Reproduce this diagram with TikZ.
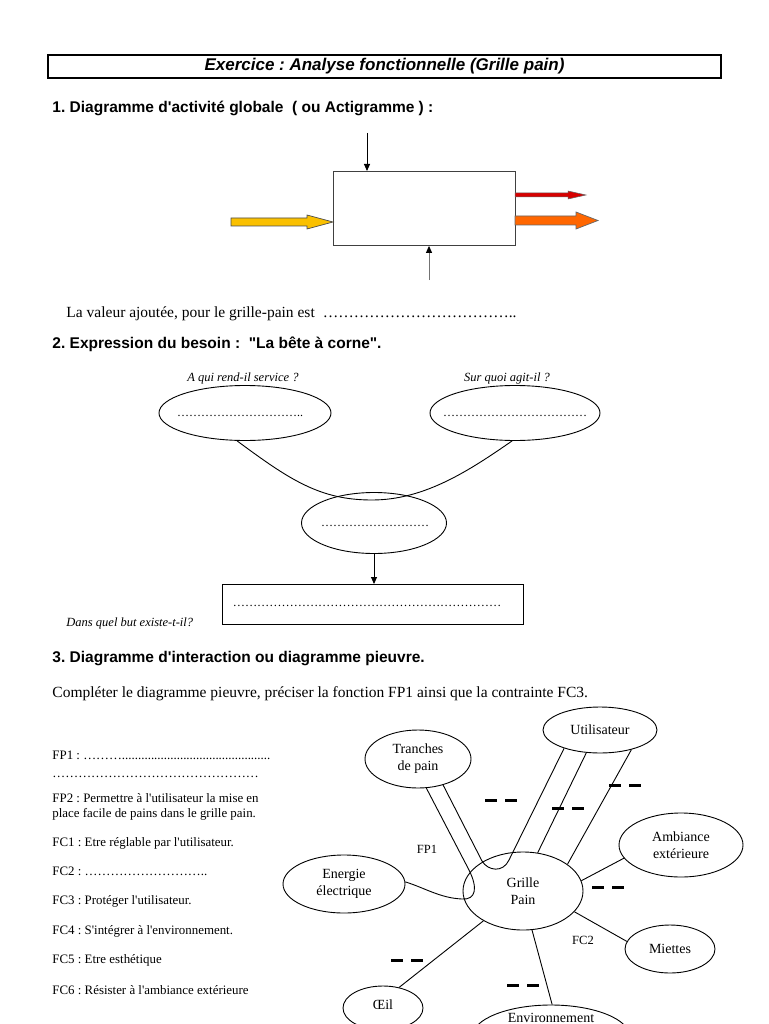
\documentclass[tikz,border=0pt]{standalone}
\usepackage{fontspec}
\setmainfont{Liberation Serif}[Ligatures=TeXOff]
\setsansfont{Liberation Sans}[Ligatures=TeXOff]
\usetikzlibrary{shapes.geometric,arrows.meta}
\definecolor{yel}{RGB}{250,192,0}
\definecolor{ora}{RGB}{255,102,0}
\definecolor{redc}{RGB}{215,0,0}
\frenchspacing
\begin{document}
\begin{tikzpicture}[x=1pt,y=-1pt,line width=0.9pt,
  every node/.style={inner sep=0pt},
  body/.style={font=\fontsize{15.5}{18}\selectfont, anchor=base west},
  heading/.style={font=\fontsize{15.5}{18}\sffamily\bfseries\selectfont, anchor=base west},
  small/.style={font=\fontsize{12.9}{15.5}\selectfont, anchor=base west},
  question/.style={font=\fontsize{12.5}{15}\itshape\selectfont, anchor=base},
  dotsfont/.style={font=\fontsize{12}{14}\selectfont, anchor=base},
  oval/.style={draw, ellipse, inner sep=0pt},
  ptext/.style={font=\fontsize{14}{17}\selectfont, align=center},
  plabel/.style={font=\fontsize{12.5}{15}\selectfont},
  thickdash/.style={line width=3pt, dash pattern=on 12pt off 8pt},
  tip/.style={-{Triangle[length=7pt,width=6pt,color=black]}}
]
\useasboundingbox (0,0) rectangle (768,1024);
\clip (0,0) rectangle (768,1024);

% title
\node[draw, line width=1.2pt, minimum width=673, minimum height=23,
      font=\fontsize{17}{20}\sffamily\bfseries\itshape\selectfont] (title) at (384.5,66.5)
      {Exercice : Analyse fonctionnelle (Grille pain)};

% section 1
\node[heading] (h1) at (52,113) {1. Diagramme d'activité globale \ ( ou Actigramme ) :};
\node[draw=black!75, minimum width=182, minimum height=74, anchor=north west] (sys) at (333,171) {};
\coordinate (tin) at (367,133);
\draw[tip] (tin) -- (tin |- sys.north);
\coordinate (bin) at (429,280);
\draw[tip, draw=black!55] (bin) -- (bin |- sys.south);
\draw[fill=yel, draw=black!70, line width=0.7pt] (231,218) -- (307,218) -- (307,215) -- (333,222) -- (307,229) -- (307,226) -- (231,226) -- cycle;
\draw[fill=redc, draw=black!60, line width=0.5pt] (515,193) -- (568,193) -- (568,191) -- (586,195) -- (568,199) -- (568,197) -- (515,197) -- cycle;
\draw[fill=ora, draw=black!60, line width=0.7pt] (515,216) -- (576,216) -- (576,212) -- (598,220.5) -- (576,229) -- (576,225) -- (515,225) -- cycle;

\node[body] (valeur) at (66,317) {La valeur ajoutée, pour le grille-pain est\hspace{8pt}………………………………..};

% section 2
\node[heading] (h2) at (52,348) {2. Expression du besoin : \ "La bête à corne".};
\node[question] (q1) at (243,381) {A qui rend-il service ?};
\node[question] (q2) at (507,381) {Sur quoi agit-il ?};
\node[oval, minimum width=172, minimum height=55] (qui) at (245,413) {};
\node[oval, minimum width=170, minimum height=55] (quoi) at (515,413) {};
\node[dotsfont] at (240,416) {…………………………..};
\node[dotsfont] at (515,416) {………………………………};
\node[oval, minimum width=145, minimum height=61] (fct) at (374,523) {};
\node[dotsfont] at (375,526) {………………………};
\draw (qui.-106) .. controls (290,480) and (320,500) .. (372,500) .. controls (425,500) and (470,470) .. (quoi.-96);
\node[draw, minimum width=301, minimum height=40, anchor=north west] (but) at (222,584) {};
\draw[tip] (fct.south) -- (fct.south |- but.north);
\node[dotsfont, font=\fontsize{12.2}{14}\selectfont] at (367,606) {…………………………………………………………};
\node[question, anchor=base west] (q3) at (66,626) {Dans quel but existe-t-il?};

% section 3
\node[heading] (h3) at (52,662) {3. Diagramme d'interaction ou diagramme pieuvre.};
\node[body] (consigne) at (52,697) {Compléter le diagramme pieuvre, préciser la fonction FP1 ainsi que la contrainte FC3.};

\node[small] (fp1) at (52,759) {FP1 : ………..............................................};
\node[small] (fp1b) at (52,777) {…………………………………………};
\node[small] (fp2) at (52,802) {FP2 : Permettre à l'utilisateur la mise en};
\node[small] (fp2b) at (52,817) {place facile de pains dans le grille pain.};
\node[small] (fc1) at (52,846) {FC1 : Etre réglable par l'utilisateur.};
\node[small] (fc2) at (52,875) {FC2 : ………………………..};
\node[small] (fc3) at (52,904) {FC3 : Protéger l'utilisateur.};
\node[small] (fc4) at (52,934) {FC4 : S'intégrer à l'environnement.};
\node[small] (fc5) at (52,963) {FC5 : Etre esthétique};
\node[small] (fc6) at (52,994) {FC6 : Résister à l'ambiance extérieure};

% pieuvre
\node[oval, minimum width=114, minimum height=46, ptext] (util) at (600,730) {Utilisateur};
\node[oval, minimum width=106, minimum height=58, ptext] (tr) at (418,759) {Tranches\\de pain};
\node[oval, minimum width=124, minimum height=64, ptext] (amb) at (681,845) {Ambiance\\extérieure};
\node[oval, minimum width=122, minimum height=58, ptext] (en) at (344,884) {Energie\\électrique};
\node[oval, minimum width=120, minimum height=78, ptext] (gp) at (523,891) {Grille\\Pain};
\node[oval, minimum width=90, minimum height=48, ptext] (mi) at (670,949) {Miettes};
\node[oval, minimum width=80, minimum height=44, ptext] (oeil) at (383,1008) {};
\node[ptext] (oeiltext) at (383,1005) {Œil};
\node[oval, minimum width=158, minimum height=64] (env) at (551,1037) {};
\node[ptext, anchor=base] (envtext) at (551,1022.5) {Environnement};

\draw (util.239) -- (gp.69);
\draw (util.328) -- (gp.31);
\draw (amb.193) -- (gp.10);
\draw (gp.338) -- (mi.170);
\draw (gp.217) -- (oeil.52);
\draw (gp.283) -- (env.88);
\draw (tr.286) -- (469,870) .. controls (478,888) and (476,900) .. (462,899) .. controls (440,898) and (425,888) .. (en.2);
\draw (tr.314) -- (482,861) .. controls (488,871) and (503,873) .. (509,860) -- (util.207);

\node[plabel] (lfp1) at (427,849) {FP1};
\node[plabel] (lfc2) at (583,940) {FC2};

\draw[thickdash] (485,800) -- (517,800);
\draw[thickdash] (552,808) -- (584,808);
\draw[thickdash] (609,785) -- (641,785);
\draw[thickdash] (592,887) -- (624,887);
\draw[thickdash] (391,960) -- (423,960);
\draw[thickdash] (507,985) -- (539,985);
\end{tikzpicture}
\end{document}
